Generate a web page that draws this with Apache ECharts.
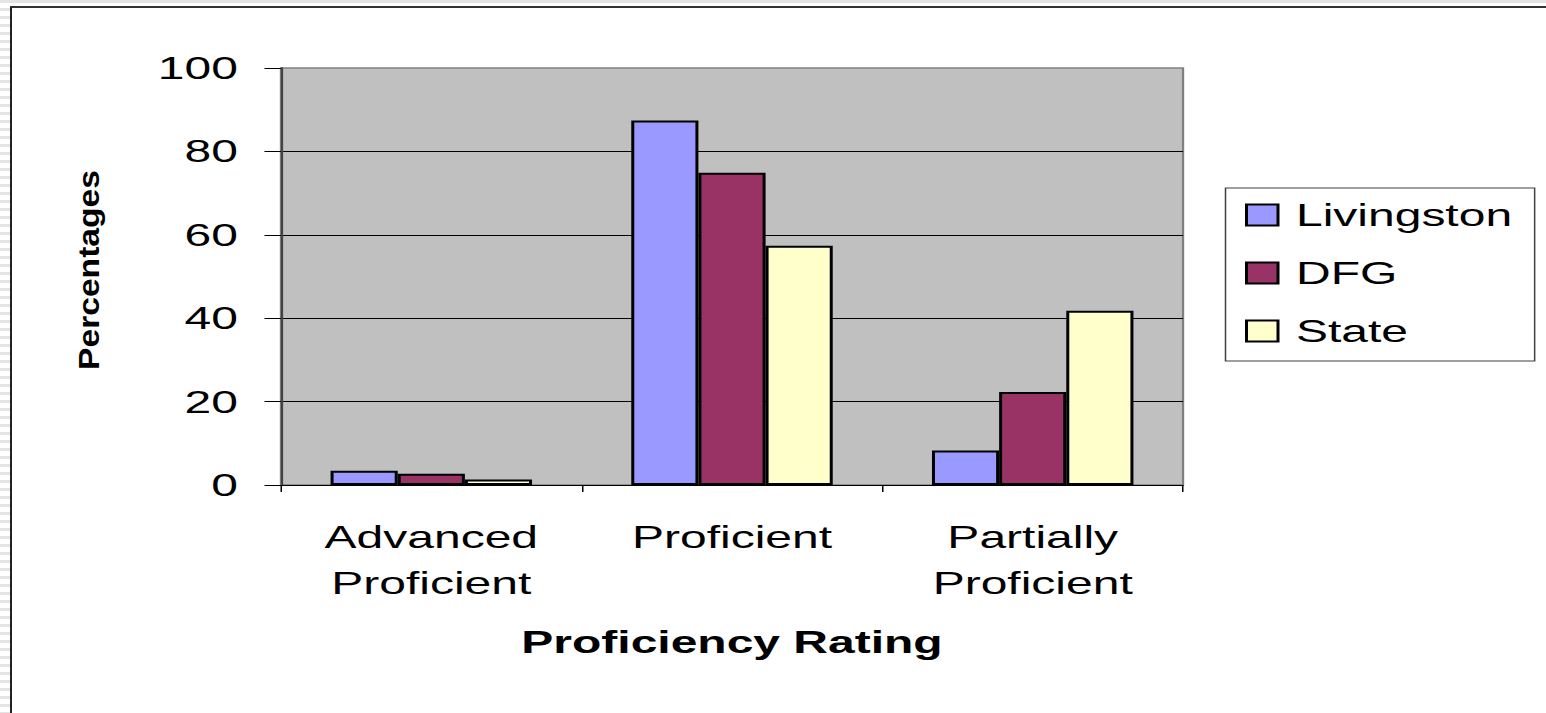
<!DOCTYPE html>
<html>
<head>
<meta charset="utf-8">
<script src="https://cdn.jsdelivr.net/npm/echarts@6/dist/echarts.min.js"></script>
<style>
  html, body {
    margin: 0;
    width: 1546px;
    height: 713px;
    overflow: hidden;
    background: repeating-linear-gradient(to bottom, #e4e4e4 0, #e4e4e4 3px, #ffffff 3px, #ffffff 8px);
  }
  #frame {
    position: absolute;
    left: 10px;
    top: 6px;
    width: 1536px;
    height: 707px;
    background: #fff;
    border-top: 2px solid #333;
    border-left: 2px solid #222;
  }
  /* the source picture is stretched sideways, so the chart is drawn narrower and scaled */
  #chart {
    position: absolute;
    left: 0;
    top: 0;
    width: 1031px;
    height: 713px;
    transform: scaleX(1.5);
    transform-origin: 0 0;
  }
</style>
</head>
<body>
<div id="frame"></div>
<div id="chart"></div>
<script>
// chart data
const categories = ['Advanced\nProficient', 'Proficient', 'Partially\nProficient']
const livingston = [3.4, 87.4, 8.3]
const dfg = [2.7, 74.9, 22.3]
const state = [1.3, 57.4, 41.8]
const yTicks = [0, 20, 40, 60, 80, 100]

const FONT = "'Liberation Sans', Arial, sans-serif"

const seriesList = [
  { name: 'Livingston', data: livingston, color: '#9999ff' },
  { name: 'DFG', data: dfg, color: '#993366' },
  { name: 'State', data: state, color: '#ffffcc' },
]

const chart = echarts.init(document.getElementById('chart'), null, { renderer: 'svg' })

const option = {
  animation: false,
  backgroundColor: 'transparent',
  textStyle: { fontFamily: FONT },
  grid: {
    left: 187.3,
    right: 242.3,
    top: 68,
    bottom: 228,
    show: true,
    backgroundColor: '#c0c0c0',
    borderColor: '#808080',
    borderWidth: 1.5,
  },
  legend: {
    orient: 'vertical',
    left: 817,
    top: 188,
    padding: [11, 15, 14, 13],
    itemGap: 26,
    itemWidth: 21,
    itemHeight: 21,
    icon: 'rect',
    borderColor: '#404040',
    borderWidth: 1,
    backgroundColor: '#fff',
    selectedMode: false,
    textStyle: {
      fontFamily: FONT,
      fontSize: 32,
      color: '#000',
      padding: [0, 0, 0, 7],
    },
  },
  xAxis: {
    type: 'category',
    data: categories,
    name: 'Proficiency Rating',
    nameLocation: 'middle',
    nameGap: 141,
    nameTextStyle: {
      fontFamily: FONT,
      fontSize: 32,
      fontWeight: 'bold',
      color: '#000',
    },
    axisLine: { lineStyle: { color: '#000', width: 1 } },
    axisTick: { show: true, length: 7, lineStyle: { color: '#000', width: 1 } },
    axisLabel: {
      fontFamily: FONT,
      fontSize: 32,
      lineHeight: 46,
      color: '#000',
      margin: 29,
      interval: 0,
    },
  },
  yAxis: {
    type: 'value',
    min: yTicks[0],
    max: yTicks[yTicks.length - 1],
    interval: 20,
    axisLine: { show: true, lineStyle: { color: '#444', width: 1.5 } },
    axisTick: { show: true, length: 11, lineStyle: { color: '#000', width: 1 } },
    axisLabel: {
      fontFamily: FONT,
      fontSize: 32,
      color: '#000',
      margin: 28.7,
    },
    splitLine: {
      show: true,
      showMinLine: false,
      showMaxLine: false,
      lineStyle: { color: '#000', width: 1 },
    },
  },
  // y title is squeezed in the source, so it is a scaled text
  graphic: [
    {
      type: 'text',
      x: 59,
      y: 270,
      rotation: Math.PI / 2,
      scaleX: 1.12,
      scaleY: 1 / 1.5,
      style: {
        text: 'Percentages',
        font: "bold 30px 'Liberation Sans', Arial, sans-serif",
        fill: '#000',
        textAlign: 'center',
        textVerticalAlign: 'middle',
      },
    },
  ],
  series: seriesList.map((s) => ({
    name: s.name,
    type: 'bar',
    data: s.data,
    barGap: '0%',
    barCategoryGap: '33%',
    itemStyle: {
      color: s.color,
      borderColor: '#000',
      borderWidth: 2,
    },
  })),
}

chart.setOption(option)
</script>
</body>
</html>
